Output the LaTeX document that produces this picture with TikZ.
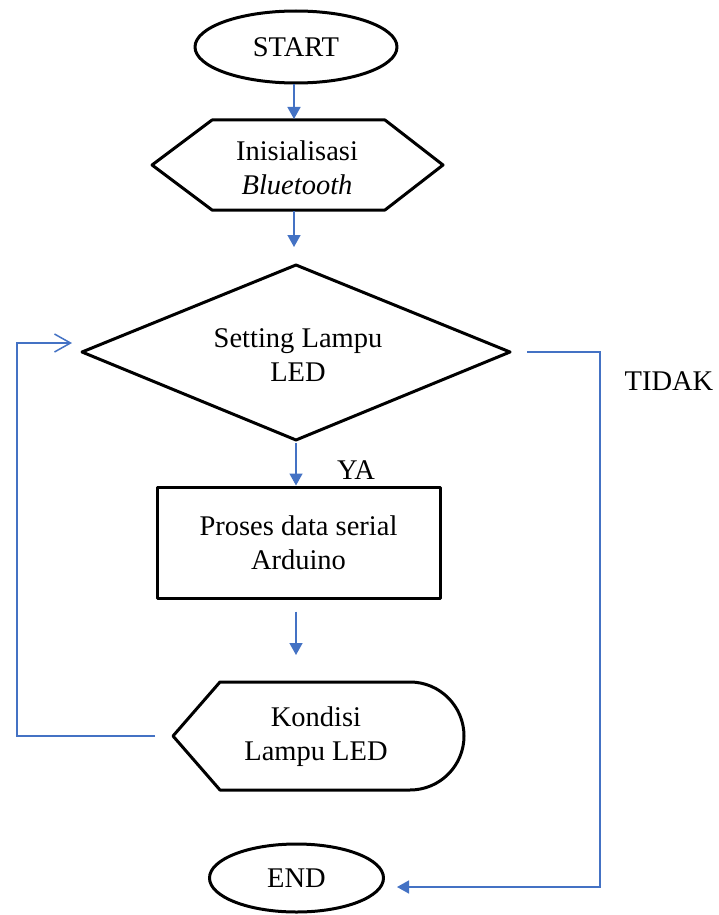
\documentclass[tikz,border=0pt]{standalone}
\usepackage{fontspec}
\setmainfont{Liberation Serif}
\usetikzlibrary{shapes.geometric,arrows.meta,calc}
\definecolor{lineblue}{RGB}{68,114,196}
\tikzset{
  shapeline/.style={draw=black,line width=3pt,line join=round},
  term/.style={shapeline,ellipse,inner sep=0pt},
  txt/.style={align=center,inner sep=0pt,font=\fontsize{28.5}{34}\selectfont},
  flow/.style={draw=lineblue,line width=1.5pt,-{Triangle[length=12pt,width=13pt]}},
  flowopen/.style={draw=lineblue,line width=1.5pt,-{Straight Barb[length=16pt,width=18pt,line width=1.5pt]}},
  plainblue/.style={draw=lineblue,line width=1.5pt}
}
\begin{document}
\begin{tikzpicture}[x=1pt,y=-1pt]
\useasboundingbox (0,0) rectangle (719,915);
\fill[white] (0,0) rectangle (719,915);

% START
\node[term,minimum width=202pt,minimum height=72pt,txt] (start) at (296,47) {START};

% Initialisation hexagon
\draw[shapeline] (152,165) -- (212,120) -- (385,120) -- (443,165) -- (385,210) -- (212,210) -- cycle;
\node[txt] (init) at (297,168) {Inisialisasi\\\textit{Bluetooth}};
\coordinate (initN) at (294,119);
\coordinate (initS) at (294,211);

% Decision diamond
\coordinate (diaN) at (296,265);
\coordinate (diaS) at (296,440);
\coordinate (diaW) at (82,352);
\coordinate (diaE) at (510,352);
\draw[shapeline] (diaW) -- (diaN) -- (diaE) -- (diaS) -- cycle;
\node[txt] (dec) at (298,355) {Setting Lampu\\LED};

% Process rectangle
\node[shapeline,rectangle,minimum width=283pt,minimum height=111pt,inner sep=0pt,txt] (proc) at (298.5,542.5) {Proses data serial\\Arduino};

% Display shape
\draw[shapeline] (173,736) -- (220,682) -- (410,682) arc[start angle=-90,end angle=90,radius=54] -- (220,790) -- cycle;
\node[txt] (disp) at (316,737) {Kondisi\\Lampu LED};
\coordinate (dispN) at (296,682);
\coordinate (dispW) at (173,736);

% END
\node[term,minimum width=174pt,minimum height=68pt,txt] (end) at (296.5,878) {END};

% loop corner coordinates
\coordinate (loopA) at (17,736);
\coordinate (loopB) at (17,343);
\coordinate (diaL) at (82,343);
\coordinate (rightA) at (600,352);
\coordinate (rightB) at (600,887);
\coordinate (endR) at (383,887);

% connectors
\draw[flow] (start.south -| initN) -- (initN);
\draw[flow,shorten >=18pt] (initS) -- (initS |- diaN);
\draw[flow,shorten <=3pt] (diaS) -- (proc.north -| diaS);
\draw[flow,shorten <=12pt,shorten >=27pt] (proc.south -| dispN) -- (dispN);
\draw[flowopen,shorten >=10pt] ($(dispW)+(-18,0)$) -- (loopA) -- (loopB) -- (diaL);
\draw[flow,shorten >=14pt] ($(diaE)+(17,0)$) -- (rightA) -- (rightB) -- (endR);

% labels
\node[txt] (ya) at (356,470) {YA};
\node[txt] (tidak) at (669,381) {TIDAK};
\end{tikzpicture}
\end{document}
